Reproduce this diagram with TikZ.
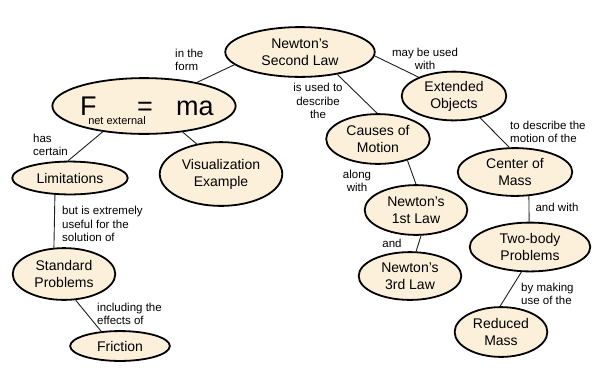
\documentclass[tikz,border=0pt]{standalone}
\usepackage{fontspec}
\setmainfont{Liberation Sans}
\usetikzlibrary{shapes.geometric}
\definecolor{cream}{RGB}{252,240,218}
\definecolor{ink}{RGB}{30,30,30}
\tikzset{
  concept/.style={ellipse,draw=black,line width=1.8bp,fill=cream,inner sep=0pt,align=center,
    font=\fontsize{14bp}{17bp}\selectfont},
  tag/.style={inner sep=0pt,font=\fontsize{11.5bp}{13.5bp}\selectfont},
  big/.style={inner sep=0pt,anchor=base west,font=\fontsize{27bp}{30bp}\selectfont},
  link/.style={draw=ink,line width=0.9bp},
}

\begin{document}
\begin{tikzpicture}[x=1bp,y=-1bp]
  \useasboundingbox (0,0) rectangle (599,371);
  % concepts
  \node[concept,minimum width=150,minimum height=50] (nsl) at (300,52) {Newton's\\Second Law};
  \node[concept,minimum width=184,minimum height=56] (fma) at (144,106) {};
  \node[big] (fmaF) at (80,115) {F};
  \node[big] (fmaeq) at (137,115) {=};
  \node[big] (fmama) at (176,115) {ma};
  \node[tag,font=\fontsize{11bp}{13bp}\selectfont] (netext) at (117,121) {net external};
  \node[concept,minimum width=116,minimum height=33] (lim) at (70,178) {Limitations};
  \node[concept,minimum width=123,minimum height=64] (vis) at (221,174) {Visualization\\Example};
  \node[concept,minimum width=103,minimum height=52] (std) at (64,274) {Standard\\Problems};
  \node[concept,minimum width=100,minimum height=30] (fric) at (120,346) {Friction};
  \node[concept,minimum width=104,minimum height=50] (causes) at (378,139) {Causes of\\Motion};
  \node[concept,minimum width=105,minimum height=49] (ext) at (454,96) {Extended\\Objects};
  \node[concept,minimum width=115,minimum height=48] (com) at (515,172) {Center of\\Mass};
  \node[concept,minimum width=103,minimum height=50] (first) at (416,210) {Newton's\\1st Law};
  \node[concept,minimum width=103,minimum height=48] (third) at (410,276) {Newton's\\3rd Law};
  \node[concept,minimum width=121,minimum height=49] (two) at (530,247) {Two-body\\Problems};
  \node[concept,minimum width=93,minimum height=50] (red) at (501,332) {Reduced\\Mass};
  % linking phrases
  \node[tag,anchor=west,align=left] (t1) at (175,60) {in the\\form};
  \node[tag,align=center] (t2) at (318,101) {is used to\\describe\\the};
  \node[tag,align=center] (t3) at (425,59) {may be used\\with};
  \node[tag,anchor=west,align=left] (t4) at (33,145) {has\\certain};
  \node[tag,anchor=west,align=left] (t5) at (62,224) {but is extremely\\useful for the\\solution of};
  \node[tag,anchor=west,align=left] (t6) at (97,314) {including the\\effects of};
  \node[tag,anchor=west,align=left] (t7) at (510,132) {to describe the\\motion of the};
  \node[tag,align=center] (t8) at (357,181) {along\\with};
  \node[tag] (t9) at (392,243) {and};
  \node[tag] (t10) at (557,207) {and with};
  \node[tag,anchor=west,align=left] (t11) at (521,294) {by making\\use of the};
  % connectors
  \draw[link] (nsl.191.6) -- (fma.24.8);
  \draw[link] (nsl.-31.2) -- (causes.92);
  \draw[link] (nsl.-3.9) -- (ext.152);
  \draw[link] (fma.212.7) -- (lim.96.7);
  \draw[link] (fma.-34.7) -- (vis.129.8);
  \draw[link] (lim.228) -- (std.111);
  \draw[link] (std.-66) -- (fric.142);
  \draw[link] (causes.-36) -- (first.90);
  \draw[link] (first.-79) -- (third.76);
  \draw[link] (ext.-40) -- (com.103.5);
  \draw[link] (com.-60) -- (two.92.5);
  \draw[link] (two.251) -- (red.92);
\end{tikzpicture}
\end{document}
